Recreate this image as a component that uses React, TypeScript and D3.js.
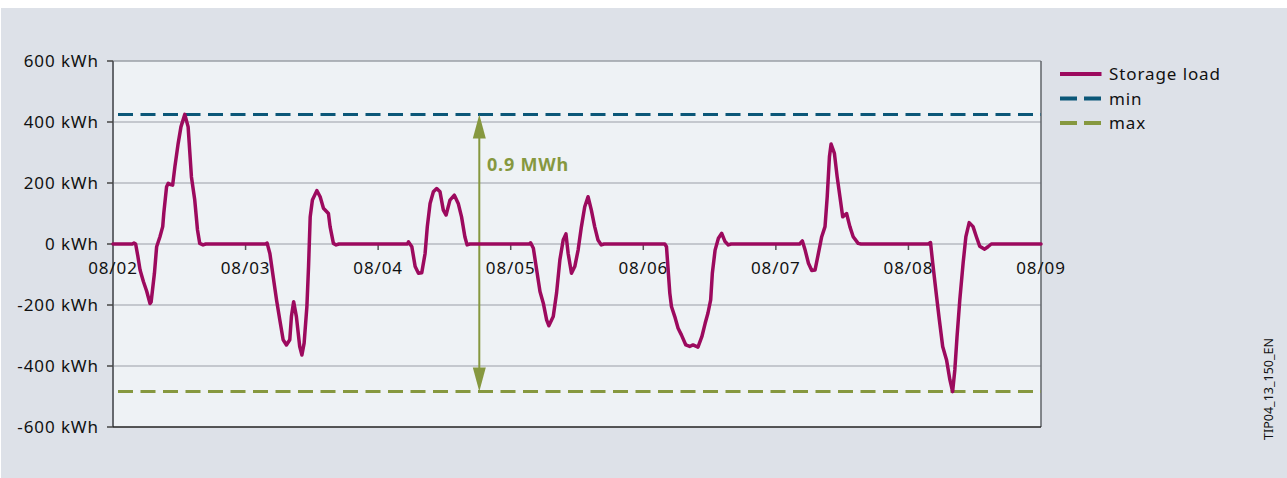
import React from "react";
import * as d3 from "d3";

// Storage load per day: [hours since 08/02 00:00, kWh]
const day0802: [number, number][] = [
  [0, 0], [3.5, 0], [3.8, 3], [4.1, 0], [4.5, -40], [4.9, -85], [5.5, -123], [6.1, -155],
  [6.7, -195], [6.9, -190], [7.5, -96], [7.9, -9], [8.5, 24], [9.0, 57], [9.2, 102],
  [9.7, 188], [10.0, 199], [10.4, 195], [10.8, 193], [11.2, 253], [11.8, 330], [12.3, 384],
  [13.0, 425], [13.6, 384], [14.2, 220], [14.8, 144], [15.3, 46], [15.7, 2], [16.3, -3], [16.8, 0],
];
const day0803: [number, number][] = [
  [27.6, 0], [27.9, 3], [28.4, -31], [29.0, -107], [29.6, -183], [30.2, -249], [30.8, -314],
  [31.4, -331], [32.0, -314], [32.3, -238], [32.7, -189], [33.2, -238], [33.8, -336],
  [34.2, -364], [34.6, -325], [35.1, -205], [35.4, -74], [35.7, 89], [36.1, 144], [36.9, 175],
  [37.5, 155], [38.1, 117], [39.0, 100], [39.3, 57], [39.9, 2], [40.4, -3], [40.9, 0],
];
const day0804: [number, number][] = [
  [53.3, 0], [53.5, 7], [54.1, -9], [54.7, -74], [55.3, -96], [55.9, -94], [56.5, -31],
  [56.9, 57], [57.4, 133], [58.0, 171], [58.6, 182], [59.2, 171], [59.8, 111], [60.3, 95],
  [61.0, 144], [61.8, 160], [62.5, 133], [63.1, 89], [63.7, 24], [64.1, -3], [64.6, 0],
];
const day0805: [number, number][] = [
  [75.4, 0], [75.6, 4], [76.1, -14], [76.7, -85], [77.3, -156], [77.9, -194], [78.5, -249],
  [78.9, -268], [79.7, -238], [80.3, -161], [80.9, -52], [81.5, 13], [82.0, 33], [82.4, -31],
  [83.0, -96], [83.6, -74], [84.2, -20], [84.8, 57], [85.4, 122], [86.0, 155], [86.6, 111],
  [87.2, 57], [87.8, 13], [88.4, -3], [88.9, 0],
];
const day0806: [number, number][] = [
  [99.9, 0], [100.2, -9], [100.5, -85], [100.8, -161], [101.1, -205], [101.7, -238],
  [102.3, -276], [102.9, -298], [103.7, -331], [104.4, -336], [105.0, -331], [105.9, -338],
  [106.6, -304], [107.2, -260], [107.7, -227], [108.2, -183], [108.5, -96], [109.0, -20],
  [109.6, 19], [110.2, 35], [110.8, 8], [111.4, -3], [111.9, 0],
];
const day0807: [number, number][] = [
  [124.3, 0], [124.8, 10], [125.3, -20], [125.9, -63], [126.5, -87], [127.1, -85],
  [127.7, -31], [128.3, 24], [128.9, 57], [129.3, 155], [129.7, 286], [130.0, 328],
  [130.6, 297], [131.1, 220], [131.6, 155], [132.1, 89], [132.8, 100], [133.4, 57],
  [134.0, 24], [134.9, 2], [135.4, 0],
];
const day0808: [number, number][] = [
  [147.6, 0], [148.0, 5], [148.4, -63], [149.1, -173], [149.6, -249], [150.2, -336],
  [150.9, -380], [151.5, -445], [152.0, -484], [152.4, -413], [152.8, -304], [153.3, -183],
  [153.9, -63], [154.4, 24], [155.0, 70], [155.7, 57], [156.3, 24], [156.9, -7],
  [157.8, -17], [158.4, -9], [159.0, 0], [168, 0],
];

const minLevel = 425;
const maxLevel = -484;
const spanLabel = "0.9 MWh";

const dayLabels = ["08/02", "08/03", "08/04", "08/05", "08/06", "08/07", "08/08", "08/09"];
const yTicks = [600, 400, 200, 0, -200, -400, -600];

const legendItems = [
  { label: "Storage load", color: "#9c0a5e", dash: "none" },
  { label: "min", color: "#0b5778", dash: "17 7" },
  { label: "max", color: "#86983f", dash: "17 7" },
];

const FONT = "'Noto Sans', 'Open Sans', sans-serif";

export default function App() {
  const W = 1287;
  const H = 478;
  const left = 113;
  const right = 1041;
  const top = 61;
  const bottom = 427;

  const x = d3.scaleLinear().domain([0, 168]).range([left, right]);
  const y = d3.scaleLinear().domain([-600, 600]).range([bottom, top]);

  const series = [...day0802, ...day0803, ...day0804, ...day0805, ...day0806, ...day0807, ...day0808];
  const line = d3
    .line<[number, number]>()
    .x((d) => x(d[0]))
    .y((d) => y(d[1]))
    .curve(d3.curveLinear);

  const arrowX = 479.3;
  const yMin = y(minLevel);
  const yMax = y(maxLevel);
  const ah = 24;
  const aw = 6.5;

  return (
    <svg
      width={W}
      height={H}
      style={{ position: "absolute", left: 0, top: 0, display: "block" }}
      fontFamily={FONT}
    >
      <rect x={0} y={0} width={W} height={H} fill="#ffffff" />
      <rect x={1} y={8} width={W - 1} height={H - 8} fill="#dde1e8" />
      <rect x={left} y={top} width={right - left} height={bottom - top} fill="#eef2f5" />

      {/* horizontal grid */}
      {yTicks
        .filter((v) => v !== 600 && v !== -600)
        .map((v) => (
          <line key={"g" + v} x1={left} x2={right} y1={y(v)} y2={y(v)} stroke="#b6bac1" strokeWidth={1.5} />
        ))}

      {/* frame */}
      <line x1={left} x2={right} y1={top} y2={top} stroke="#9a9fa6" strokeWidth={1.5} />
      <line x1={right} x2={right} y1={top} y2={bottom} stroke="#5f6368" strokeWidth={1.5} />
      <line x1={left} x2={left} y1={top} y2={bottom} stroke="#66696e" strokeWidth={2} />
      <line x1={left} x2={right} y1={bottom} y2={bottom} stroke="#222" strokeWidth={1.5} />

      {/* y axis ticks and labels */}
      {yTicks.map((v) => (
        <g key={"y" + v}>
          <line x1={left - 6} x2={left} y1={y(v)} y2={y(v)} stroke="#444" strokeWidth={1.5} />
          <text
            x={99}
            y={y(v)}
            dy="0.36em"
            textAnchor="end"
            fontSize={17}
            letterSpacing={0.9}
            fill="#111"
          >
            {`${v} kWh`}
          </text>
        </g>
      ))}

      {/* x axis ticks and labels on the zero line */}
      {dayLabels.map((lab, i) => (
        <g key={lab}>
          {i > 0 && i < dayLabels.length - 1 && (
            <line x1={x(i * 24)} x2={x(i * 24)} y1={y(0)} y2={y(0) + 6} stroke="#555" strokeWidth={1.5} />
          )}
          <text
            x={x(i * 24)}
            y={y(0) + 30}
            textAnchor="middle"
            fontSize={17}
            letterSpacing={0.9}
            fill="#111"
          >
            {lab}
          </text>
        </g>
      ))}

      {/* limits */}
      <line x1={left + 5} x2={right} y1={yMin} y2={yMin} stroke="#0b5778" strokeWidth={3} strokeDasharray="15 7.5" />
      <line x1={left + 5} x2={right} y1={yMax} y2={yMax} stroke="#86983f" strokeWidth={3} strokeDasharray="15 7.5" />

      {/* span arrow */}
      <line x1={arrowX} x2={arrowX} y1={yMin + ah - 2} y2={yMax - ah + 2} stroke="#86983f" strokeWidth={2} />
      <path
        d={`M${arrowX},${yMin} L${arrowX - aw},${yMin + ah} L${arrowX + aw},${yMin + ah} Z`}
        fill="#86983f"
      />
      <path
        d={`M${arrowX},${yMax} L${arrowX - aw},${yMax - ah} L${arrowX + aw},${yMax - ah} Z`}
        fill="#86983f"
      />
      <text x={487} y={171} fontSize={18} fontWeight="bold" letterSpacing={0.8} fill="#86983f">
        {spanLabel}
      </text>

      {/* storage load */}
      <path
        d={line(series) ?? ""}
        fill="none"
        stroke="#9c0a5e"
        strokeWidth={3.5}
        strokeLinejoin="round"
        strokeLinecap="round"
      />

      {/* legend */}
      {legendItems.map((it, i) => {
        const ly = 74 + i * 24.5;
        return (
          <g key={it.label}>
            <line
              x1={1060}
              x2={1101.5}
              y1={ly}
              y2={ly}
              stroke={it.color}
              strokeWidth={4}
              strokeDasharray={it.dash}
            />
            <text x={1109} y={ly} dy="0.36em" fontSize={17} letterSpacing={0.9} fill="#111">
              {it.label}
            </text>
          </g>
        );
      })}

      <text
        transform={`translate(1273, 389) rotate(-90)`}
        textAnchor="middle"
        fontSize={12.5}
        fill="#111"
      >
        TIP04_13_150_EN
      </text>
    </svg>
  );
}
